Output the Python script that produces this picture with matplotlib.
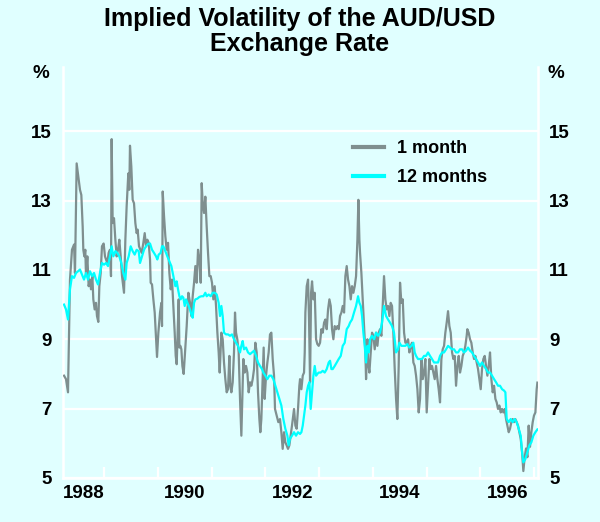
import matplotlib
matplotlib.use("Agg")
import matplotlib.pyplot as plt
from matplotlib.ticker import FixedLocator, NullFormatter

plt.rcParams['font.family'] = ['Liberation Sans', 'DejaVu Sans']

title = "Implied Volatility of the AUD/USD\nExchange Rate"
series_names = ["1 month", "12 months"]
year_labels = ["1988", "1990", "1992", "1994", "1996"]
y_ticks = [5, 7, 9, 11, 13, 15]

one_month_dates = [
    1988.256, 1988.293, 1988.330, 1988.367, 1988.404, 1988.442, 1988.460, 1988.491, 1988.522, 1988.553,
    1988.578, 1988.603, 1988.615, 1988.634, 1988.652, 1988.665, 1988.690, 1988.714, 1988.739, 1988.758,
    1988.783, 1988.801, 1988.826, 1988.851, 1988.869, 1988.894, 1988.913, 1988.938, 1988.962, 1988.993,
    1989.018, 1989.037, 1989.062, 1989.086, 1989.111, 1989.130, 1989.142, 1989.161, 1989.186, 1989.211,
    1989.235, 1989.260, 1989.285, 1989.310, 1989.335, 1989.372, 1989.397, 1989.421, 1989.452, 1989.471,
    1989.483, 1989.508, 1989.533, 1989.558, 1989.583, 1989.607, 1989.626, 1989.651,
    1989.701, 1989.732, 1989.757, 1989.782, 1989.806, 1989.831, 1989.856, 1989.868, 1989.893, 1989.918,
    1989.943, 1989.968, 1989.986, 1990.011, 1990.042, 1990.067, 1990.079, 1990.092, 1990.117, 1990.141,
    1990.166, 1990.191, 1990.216, 1990.241, 1990.265, 1990.290, 1990.315, 1990.334, 1990.352, 1990.371,
    1990.389, 1990.402, 1990.420, 1990.439, 1990.458, 1990.482, 1990.507, 1990.538, 1990.569, 1990.600,
    1990.625, 1990.650, 1990.675, 1990.699, 1990.724, 1990.749, 1990.774, 1990.799, 1990.817, 1990.836,
    1990.861, 1990.885, 1990.910, 1990.935, 1990.960, 1990.985, 1991.009, 1991.034, 1991.059, 1991.084,
    1991.109, 1991.133, 1991.152,
    1991.183, 1991.208, 1991.232, 1991.257, 1991.282, 1991.307, 1991.332, 1991.350, 1991.369, 1991.394,
    1991.418, 1991.437, 1991.456, 1991.480, 1991.505, 1991.530, 1991.555, 1991.580, 1991.592, 1991.617,
    1991.642, 1991.667, 1991.691, 1991.716, 1991.741, 1991.766, 1991.791, 1991.815, 1991.840, 1991.865,
    1991.890, 1991.908, 1991.927, 1991.952, 1991.970, 1991.989, 1992.014, 1992.039, 1992.063, 1992.088,
    1992.113, 1992.138, 1992.163, 1992.181, 1992.212, 1992.243, 1992.274, 1992.299, 1992.324, 1992.349,
    1992.373, 1992.398, 1992.423, 1992.448, 1992.473, 1992.497, 1992.535, 1992.560, 1992.584, 1992.609,
    1992.634,
    1992.647, 1992.672, 1992.697, 1992.721, 1992.734, 1992.746, 1992.771, 1992.796, 1992.814, 1992.833,
    1992.852, 1992.870, 1992.895, 1992.920, 1992.945, 1992.969, 1992.994, 1993.019, 1993.044, 1993.069,
    1993.094, 1993.118, 1993.143, 1993.168, 1993.193, 1993.218, 1993.242, 1993.267, 1993.292, 1993.317,
    1993.342, 1993.366, 1993.391, 1993.416, 1993.441, 1993.466, 1993.490, 1993.515, 1993.540, 1993.565,
    1993.590, 1993.614, 1993.639, 1993.664, 1993.689, 1993.714, 1993.732, 1993.751, 1993.763, 1993.788,
    1993.813, 1993.838, 1993.862, 1993.875, 1993.900, 1993.912, 1993.937, 1993.961, 1993.986, 1994.011,
    1994.036, 1994.061, 1994.086, 1994.110, 1994.135,
    1994.160, 1994.185, 1994.209, 1994.234, 1994.259, 1994.284, 1994.309, 1994.333, 1994.358, 1994.383,
    1994.408, 1994.433, 1994.457, 1994.482, 1994.507, 1994.532, 1994.557, 1994.582, 1994.606, 1994.631,
    1994.656, 1994.681, 1994.706, 1994.730, 1994.755, 1994.780, 1994.805, 1994.830, 1994.854, 1994.879,
    1994.904, 1994.929, 1994.954, 1994.978, 1995.003, 1995.028, 1995.053, 1995.078, 1995.102, 1995.127,
    1995.152, 1995.177, 1995.202, 1995.226, 1995.251, 1995.276, 1995.301, 1995.326, 1995.350, 1995.375,
    1995.400, 1995.425, 1995.450, 1995.475, 1995.499, 1995.524, 1995.549, 1995.574, 1995.599,
    1995.623, 1995.648, 1995.673, 1995.697, 1995.722, 1995.747, 1995.759, 1995.784, 1995.809, 1995.834,
    1995.859, 1995.884, 1995.908, 1995.933, 1995.958, 1995.983, 1996.008, 1996.032, 1996.057, 1996.082,
    1996.107, 1996.132, 1996.156, 1996.181, 1996.206, 1996.231, 1996.256, 1996.281, 1996.305, 1996.330,
    1996.355, 1996.380, 1996.405, 1996.429, 1996.454, 1996.479, 1996.504, 1996.529, 1996.553, 1996.578,
    1996.603, 1996.628, 1996.652, 1996.677, 1996.702, 1996.727, 1996.752, 1996.777, 1996.801, 1996.826,
    1996.851, 1996.876, 1996.900, 1996.925, 1996.950, 1996.975, 1996.999, 1997.025, 1997.049, 1997.062,
]
one_month = [
    7.95, 7.85, 7.47, 10.72, 11.58, 11.73, 10.91, 14.07, 13.69, 13.31,
    13.16, 12.25, 11.58, 11.39, 11.58, 10.82, 11.39, 10.53, 10.72, 10.44,
    10.82, 10.15, 9.86, 10.05, 9.67, 9.50, 10.53, 10.91, 11.68, 11.76,
    11.39, 11.30, 11.20, 11.49, 11.58, 10.82, 14.77, 12.35, 12.49, 11.87,
    11.39, 11.58, 11.87, 11.39, 10.82, 10.34, 11.87, 12.83, 13.78, 13.31,
    14.58, 13.98, 13.02, 12.92, 12.35, 12.06, 12.16, 11.68,
    11.49, 11.78, 12.06, 11.68, 11.87, 11.78, 11.30, 10.63, 10.58, 10.15,
    9.77, 9.00, 8.49, 9.19, 9.77, 10.05, 9.38, 13.26, 12.54, 11.97,
    11.58, 11.78, 10.91, 10.44, 10.72, 9.96, 9.19, 8.52, 8.28, 9.19,
    10.15, 8.76, 8.81, 8.71, 8.23, 8.00, 8.62, 9.38, 10.34, 10.05,
    9.67, 10.24, 10.63, 11.11, 10.63, 11.58, 11.30, 10.63, 13.50, 12.92,
    12.64, 13.11, 12.25, 11.49, 10.82, 10.82, 10.63, 10.15, 10.53, 9.96,
    9.19, 8.62, 8.04,
    9.19, 9.00, 8.33, 7.85, 7.47, 7.56, 8.52, 7.66, 7.47, 7.76,
    8.62, 9.77, 9.19, 9.00, 8.62, 7.28, 6.22, 7.66, 8.43, 8.04,
    8.23, 8.04, 7.47, 7.76, 7.66, 7.85, 8.14, 8.90, 8.62, 7.47,
    6.70, 6.32, 6.70, 7.85, 8.76, 7.28, 7.95, 8.33, 8.62, 9.14,
    9.19, 8.43, 7.95, 6.99, 6.80, 6.61, 6.70, 6.32, 5.84, 6.32,
    6.03, 5.94, 5.84, 5.94, 6.22, 6.51, 6.99, 6.51, 6.42, 6.99,
    7.66,
    7.85, 7.56, 7.95, 8.04, 8.62, 9.77, 10.53, 10.72, 9.57, 7.76,
    10.34, 10.67, 10.15, 10.34, 9.00, 8.86, 8.81, 8.90, 9.29, 9.19,
    9.48, 9.57, 9.29, 9.86, 10.15, 9.96, 9.29, 9.00, 9.38, 9.29,
    9.38, 9.29, 9.67, 9.77, 9.96, 9.77, 10.82, 11.11, 10.72, 10.53,
    10.15, 10.53, 10.34, 10.53, 10.82, 11.87, 13.02, 11.87, 11.49, 10.91,
    10.15, 9.38, 8.62, 7.85, 9.00, 8.33, 8.04, 8.62, 9.19, 9.10,
    8.71, 9.19, 8.81, 9.19, 9.29,
    9.10, 9.96, 10.82, 10.15, 9.86, 9.96, 9.67, 10.05, 9.96, 9.19,
    8.14, 7.28, 6.70, 8.23, 10.63, 10.05, 10.15, 9.19, 8.90, 8.90,
    9.00, 8.62, 8.81, 8.90, 8.33, 8.23, 7.95, 7.56, 6.89, 7.28,
    8.43, 7.85, 8.04, 8.43, 6.89, 7.66, 8.43, 8.14, 8.23, 8.04,
    7.85, 8.23, 7.85, 7.56, 7.18, 8.43, 8.71, 8.81, 9.19, 9.48,
    9.81, 9.38, 9.19, 8.62, 8.43, 8.52, 7.66, 8.23, 8.52,
    8.04, 8.23, 8.52, 8.62, 8.81, 9.10, 9.29, 9.19, 9.00, 8.90,
    8.62, 8.43, 8.52, 8.33, 8.14, 7.85, 7.56, 8.14, 8.43, 8.52,
    8.23, 7.95, 8.23, 8.62, 7.85, 7.47, 7.66, 7.28, 7.18, 6.99,
    7.09, 6.89, 6.99, 6.89, 6.99, 6.70, 6.51, 6.32, 6.42, 6.61,
    6.70, 6.61, 6.70, 6.61, 6.51, 6.32, 6.13, 5.75, 5.20, 5.60,
    5.85, 5.60, 6.51, 5.90, 6.32, 6.61, 6.80, 6.89, 7.56, 7.75,
]

twelve_month_dates = [
    1988.256, 1988.293, 1988.330, 1988.367, 1988.404, 1988.442, 1988.479, 1988.516, 1988.553, 1988.590,
    1988.628, 1988.665, 1988.702, 1988.739, 1988.777, 1988.814, 1988.851, 1988.888, 1988.925, 1988.962,
    1989.000, 1989.037, 1989.074, 1989.111, 1989.142, 1989.173, 1989.211, 1989.248, 1989.285, 1989.322,
    1989.359, 1989.397, 1989.421, 1989.459, 1989.496, 1989.533, 1989.570, 1989.607, 1989.645,
    1989.670, 1989.707, 1989.744, 1989.782, 1989.819, 1989.856, 1989.893, 1989.930, 1989.968, 1989.992,
    1990.017, 1990.054, 1990.079, 1990.104, 1990.129, 1990.154, 1990.178, 1990.203, 1990.228, 1990.253,
    1990.278, 1990.302, 1990.327, 1990.352, 1990.377, 1990.402, 1990.426, 1990.451, 1990.476, 1990.501,
    1990.526, 1990.551, 1990.575, 1990.600, 1990.625, 1990.650, 1990.675, 1990.699, 1990.737, 1990.774,
    1990.811, 1990.848, 1990.885, 1990.910, 1990.947, 1990.985, 1991.022, 1991.059, 1991.096, 1991.133,
    1991.158,
    1991.183, 1991.208, 1991.232, 1991.270, 1991.307, 1991.344, 1991.381, 1991.418, 1991.456, 1991.493,
    1991.530, 1991.555, 1991.580, 1991.604, 1991.642, 1991.679, 1991.716, 1991.753, 1991.791, 1991.828,
    1991.865, 1991.902, 1991.939, 1991.964, 1992.001, 1992.039, 1992.076, 1992.113, 1992.150, 1992.188,
    1992.225, 1992.262, 1992.299, 1992.336, 1992.373, 1992.411, 1992.435, 1992.460, 1992.497, 1992.535,
    1992.572, 1992.609, 1992.646,
    1992.672, 1992.697, 1992.721, 1992.746, 1992.771, 1992.796, 1992.821, 1992.845, 1992.870, 1992.895,
    1992.920, 1992.945, 1992.969, 1992.994, 1993.031, 1993.069, 1993.106, 1993.143, 1993.180, 1993.205,
    1993.230, 1993.255, 1993.292, 1993.329, 1993.366, 1993.404, 1993.441, 1993.478, 1993.515, 1993.552,
    1993.577, 1993.614, 1993.651, 1993.689, 1993.726, 1993.751, 1993.776, 1993.800, 1993.825, 1993.850,
    1993.875, 1993.900, 1993.924, 1993.949, 1993.986, 1994.024, 1994.061, 1994.098, 1994.135,
    1994.172, 1994.209, 1994.247, 1994.284, 1994.321, 1994.358, 1994.395, 1994.433, 1994.470, 1994.495,
    1994.532, 1994.569, 1994.606, 1994.644, 1994.681, 1994.718, 1994.755, 1994.780, 1994.805, 1994.842,
    1994.879, 1994.916, 1994.954, 1994.991, 1995.028, 1995.065, 1995.102, 1995.140, 1995.177, 1995.214,
    1995.251, 1995.289, 1995.326, 1995.363, 1995.400, 1995.437, 1995.475, 1995.512, 1995.549, 1995.586,
    1995.623,
    1995.660, 1995.697, 1995.735, 1995.772, 1995.809, 1995.846, 1995.883, 1995.921, 1995.958, 1995.995,
    1996.032, 1996.070, 1996.107, 1996.144, 1996.181, 1996.218, 1996.256, 1996.293, 1996.330, 1996.367,
    1996.405, 1996.442, 1996.467, 1996.479, 1996.491, 1996.529, 1996.566, 1996.603, 1996.640, 1996.677,
    1996.715, 1996.752, 1996.777, 1996.801, 1996.839, 1996.876, 1996.913, 1996.950, 1996.987, 1997.025,
    1997.062,
]
twelve_month = [
    10.00, 9.86, 9.57, 10.44, 10.82, 10.77, 10.91, 10.96, 11.01, 10.87,
    10.72, 10.91, 10.72, 10.96, 10.82, 10.91, 10.72, 10.58, 10.91, 11.20,
    11.15, 11.20, 11.11, 11.39, 11.68, 11.39, 11.54, 11.49, 11.39, 11.20,
    10.91, 10.72, 11.20, 11.39, 11.68, 11.54, 11.44, 11.58, 11.54,
    11.20, 11.39, 11.58, 11.68, 11.75, 11.76, 11.58, 11.49, 11.39, 11.30,
    11.44, 11.49, 11.68, 11.68, 11.58, 11.49, 11.39, 11.30, 11.20, 11.11,
    10.91, 10.72, 10.53, 10.67, 10.44, 10.24, 10.15, 10.24, 10.20, 9.96,
    10.15, 10.05, 9.96, 9.86, 9.72, 9.62, 10.05, 10.15, 10.17, 10.22,
    10.24, 10.24, 10.34, 10.24, 10.29, 10.24, 10.34, 10.34, 10.29, 10.05,
    9.67,
    9.96, 9.67, 9.19, 9.14, 9.14, 9.10, 9.14, 9.00, 8.90, 8.81,
    8.62, 8.81, 8.95, 8.71, 8.76, 8.62, 8.57, 8.62, 8.67, 8.52,
    8.33, 8.23, 8.14, 8.04, 7.95, 7.85, 7.95, 7.95, 7.85, 7.66,
    7.47, 7.28, 7.09, 6.70, 6.42, 6.22, 5.94, 6.13, 6.22, 6.32,
    6.22, 6.32, 6.27,
    6.32, 6.51, 6.80, 7.09, 7.47, 7.66, 7.76, 6.99, 7.47, 7.95,
    8.23, 7.95, 8.00, 8.04, 8.04, 8.09, 8.04, 8.14, 8.33, 8.38,
    8.14, 8.14, 8.23, 8.33, 8.43, 8.52, 8.81, 8.90, 9.29, 9.38,
    9.48, 9.57, 9.77, 9.96, 10.24, 10.05, 9.96, 9.67, 9.19, 8.81,
    8.33, 8.81, 8.62, 9.00, 9.10, 9.00, 9.19, 9.10, 9.19,
    9.48, 9.96, 9.67, 9.57, 9.48, 9.38, 9.19, 8.62, 8.71, 8.90,
    8.81, 8.81, 8.81, 8.86, 8.76, 8.81, 8.90, 8.62, 8.52, 8.43,
    8.43, 8.43, 8.52, 8.52, 8.62, 8.52, 8.43, 8.33, 8.33, 8.33,
    8.52, 8.62, 8.62, 8.71, 8.81, 8.76, 8.71, 8.71, 8.62, 8.62,
    8.71,
    8.71, 8.62, 8.67, 8.76, 8.67, 8.62, 8.52, 8.43, 8.33, 8.23,
    8.33, 8.23, 8.14, 8.04, 8.04, 7.95, 7.85, 7.76, 7.66, 7.66,
    7.56, 7.52, 7.47, 7.09, 6.70, 6.61, 6.70, 6.61, 6.70, 6.61,
    6.42, 6.22, 5.75, 5.45, 5.55, 5.75, 5.94, 6.03, 6.22, 6.32,
    6.40,
]

bg = '#E0FFFF'
grey = '#7F8F8F'
cyan = '#00FFFF'
fs = 13.5

fig = plt.figure(figsize=(6.0, 5.22), dpi=100, facecolor=bg)
ax = fig.add_axes([0.105, 0.0843, 0.7917, 0.7874], facecolor=bg)

ax.plot(one_month_dates, one_month, color=grey, lw=1.6, label=series_names[0], zorder=3)
ax.plot(twelve_month_dates, twelve_month, color=cyan, lw=1.6, label=series_names[1], zorder=4)

x0, x1 = 1988.237, 1997.074
ax.set_xlim(x0, x1)
ax.set_ylim(5, 16.85)

# y axis
ax.set_yticks(y_ticks)
ax.set_yticklabels([str(v) for v in y_ticks])
ax.tick_params(axis='y', length=0, pad=8, labelleft=True, labelright=True,
               labelsize=fs)
for lab in ax.get_yticklabels():
    lab.set_fontweight('bold')
ax.grid(axis='y', color='white', lw=1.6, zorder=1)

# x axis: tick marks at year boundaries, labels mid-year
year_bounds = list(range(1989, 1998))
label_pos = [(x0 + 1989) / 2] + [int(y) + 0.5 for y in year_labels[1:]]
ax.xaxis.set_minor_locator(FixedLocator(year_bounds))
ax.xaxis.set_minor_formatter(NullFormatter())
ax.set_xticks(label_pos)
ax.set_xticklabels(year_labels, fontweight='bold', fontsize=fs)
ax.tick_params(axis='x', which='major', length=0, pad=5)
ax.tick_params(axis='x', which='minor', direction='in', length=8, width=1.6,
               color='white')

for side in ['left', 'right', 'bottom']:
    ax.spines[side].set_color('white')
    ax.spines[side].set_linewidth(1.8)
ax.spines['top'].set_visible(False)

ax.text(-0.046, 0.985, '%', transform=ax.transAxes, ha='center', va='center',
        fontsize=fs, fontweight='bold')
ax.text(1.038, 0.985, '%', transform=ax.transAxes, ha='center', va='center',
        fontsize=fs, fontweight='bold')

fig.text(0.5, 0.986, title, ha='center', va='top', fontsize=18,
         fontweight='bold', linespacing=1.02)

leg = ax.legend(loc='upper left', bbox_to_anchor=(0.577, 0.862), frameon=False,
                handlelength=1.7, handletextpad=0.7, labelspacing=0.66,
                prop={'weight': 'bold', 'size': 13})
for line in leg.get_lines():
    line.set_linewidth(3.0)

fig.savefig('out.png', dpi=100, facecolor=bg)
